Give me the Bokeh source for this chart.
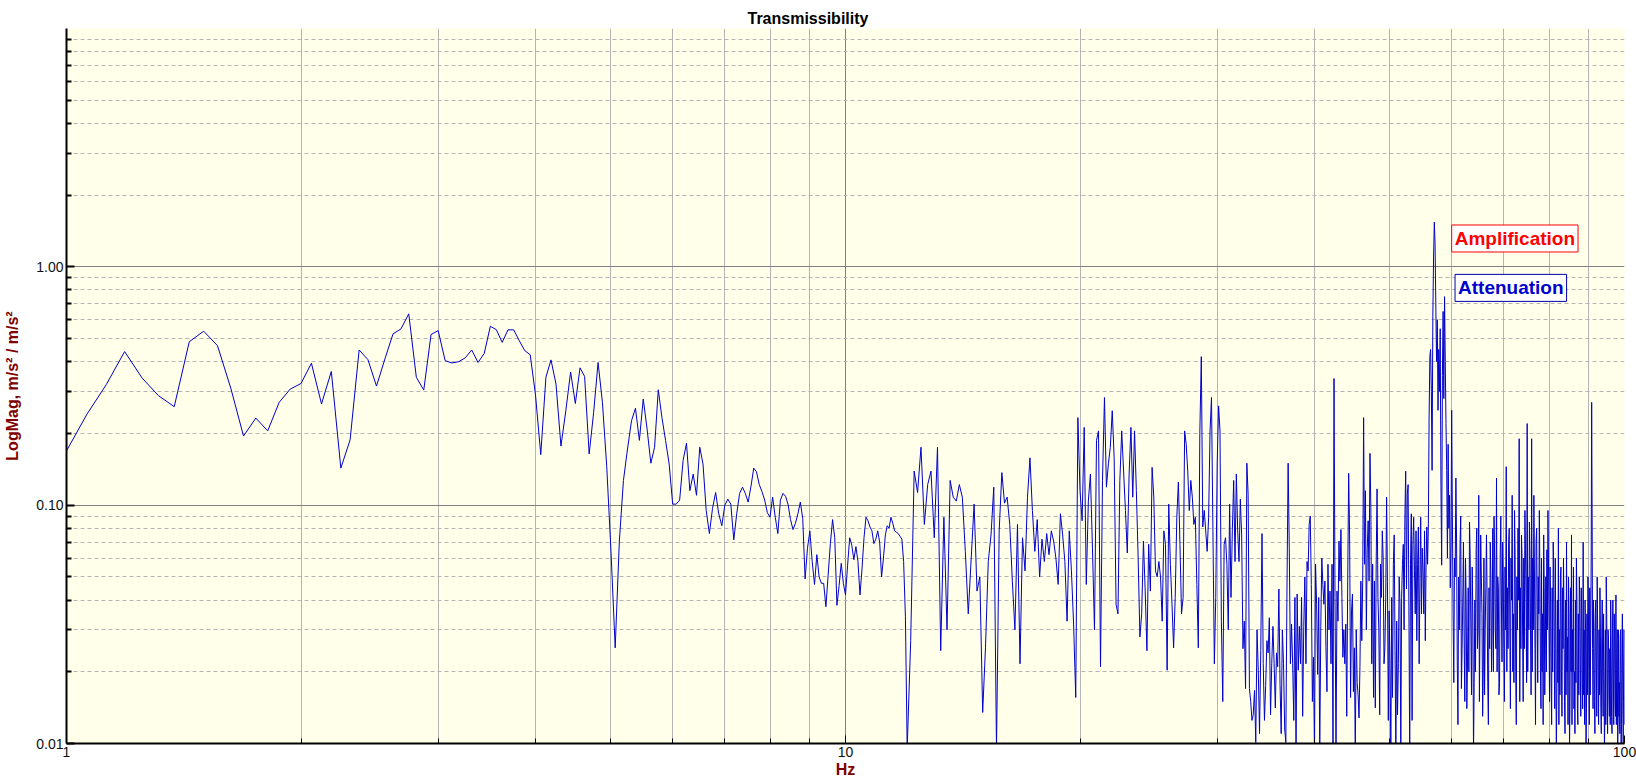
import numpy as np
from bokeh.plotting import figure
from bokeh.models import FixedTicker, PrintfTickFormatter, Label, Title
from bokeh.embed import file_html
from bokeh.resources import INLINE

# ---------------- data ----------------
# 1.0 .. 11.9375 Hz, 0.0625 Hz lines
mag_a = [
    0.169, 0.241, 0.321, 0.441, 0.342, 0.288, 0.259, 0.485,
    0.537, 0.467, 0.31, 0.195, 0.232, 0.205, 0.270, 0.307,
    0.324, 0.394, 0.266, 0.364, 0.143, 0.188, 0.448, 0.408,
    0.316, 0.41, 0.523, 0.549, 0.635, 0.344, 0.304, 0.52,
    0.540, 0.404, 0.395, 0.40, 0.415, 0.448, 0.397, 0.433,
    0.563, 0.545, 0.482, 0.544, 0.544, 0.49, 0.445, 0.428,
    0.29, 0.163, 0.344, 0.407, 0.322, 0.177, 0.249, 0.362,
    0.267, 0.377, 0.347, 0.164, 0.245, 0.397, 0.270, 0.145,
    0.064, 0.0252, 0.0707, 0.127, 0.172, 0.226, 0.255, 0.187,
    0.279, 0.209, 0.150, 0.175, 0.305, 0.233, 0.187, 0.149,
    0.101, 0.101, 0.105, 0.154, 0.182, 0.115, 0.135, 0.110,
    0.175, 0.149, 0.095, 0.076, 0.097, 0.113, 0.092, 0.082,
    0.100, 0.106, 0.101, 0.0715, 0.092, 0.112, 0.119, 0.112,
    0.103, 0.120, 0.143, 0.138, 0.122, 0.114, 0.105, 0.093,
    0.089, 0.108, 0.089, 0.076, 0.105, 0.112, 0.109, 0.101,
    0.087, 0.079, 0.084, 0.092, 0.103, 0.088, 0.049, 0.066,
    0.078, 0.058, 0.0465, 0.062, 0.050, 0.047, 0.047, 0.0375,
    0.051, 0.069, 0.087, 0.073, 0.038, 0.046, 0.057, 0.047,
    0.042, 0.056, 0.073, 0.068, 0.059, 0.067, 0.058, 0.042,
    0.054, 0.073, 0.089, 0.086, 0.081, 0.078, 0.069, 0.072,
    0.078, 0.070, 0.050, 0.060, 0.075, 0.082, 0.080, 0.089,
    0.084, 0.078, 0.077, 0.076, 0.074, 0.072, 0.058, 0.034,
]
# 12.0 .. 30.0 Hz, every 0.125 Hz
mag_b = [
    0.0095, 0.027, 0.139, 0.113, 0.175, 0.083, 0.122, 0.139,
    0.073, 0.175, 0.0245, 0.089, 0.030, 0.127, 0.108, 0.104,
    0.122, 0.108, 0.064, 0.035, 0.060, 0.101, 0.0436, 0.050,
    0.0135, 0.0252, 0.058, 0.075, 0.119, 0.0095, 0.078, 0.137,
    0.102, 0.108, 0.083, 0.048, 0.030, 0.083, 0.0216, 0.073,
    0.053, 0.108, 0.158, 0.095, 0.064, 0.087, 0.050, 0.072,
    0.058, 0.076, 0.062, 0.078, 0.0707, 0.060, 0.0465, 0.092,
    0.075, 0.058, 0.0326, 0.078, 0.053, 0.0317, 0.0156, 0.233,
    0.115, 0.086, 0.212, 0.0465, 0.104, 0.135, 0.066, 0.030,
    0.187, 0.205, 0.021, 0.127, 0.283, 0.119, 0.149, 0.175,
    0.249, 0.158, 0.0384, 0.035, 0.127, 0.205, 0.139, 0.095,
    0.063, 0.135, 0.212, 0.108, 0.205, 0.115, 0.060, 0.028,
    0.035, 0.0707, 0.0436, 0.0245, 0.0685, 0.0436, 0.144, 0.108,
    0.053, 0.050, 0.058, 0.050, 0.0326, 0.078, 0.0685, 0.0203,
    0.101, 0.0565, 0.0384, 0.0252, 0.041, 0.089, 0.125, 0.0685,
    0.035, 0.041, 0.205, 0.180, 0.139, 0.095, 0.127, 0.108,
    0.083, 0.089, 0.0465, 0.0252, 0.20, 0.42, 0.081, 0.095,
    0.078, 0.064, 0.089, 0.205, 0.283, 0.078, 0.0216, 0.041,
    0.149,
]
# 30.125 .. 60.0 Hz, every 0.125 Hz
mag_c = [
    0.261, 0.205, 0.0326, 0.0150, 0.0685, 0.073, 0.0565, 0.030,
    0.101, 0.041, 0.078, 0.127, 0.058, 0.135, 0.078, 0.058,
    0.106, 0.075, 0.025, 0.0326, 0.017, 0.150, 0.111, 0.017,
    0.015, 0.0125, 0.0132, 0.0167, 0.0101, 0.030, 0.0203, 0.011,
    0.0245, 0.076, 0.0216, 0.0125, 0.0175, 0.027, 0.024, 0.0337,
    0.0132, 0.0216, 0.031, 0.0216, 0.0141, 0.024, 0.021, 0.0445,
    0.0177, 0.011, 0.030, 0.0216, 0.0115, 0.0101, 0.0445, 0.150,
    0.066, 0.0216, 0.0317, 0.0216, 0.0125, 0.041, 0.009, 0.0424,
    0.0203, 0.031, 0.0216, 0.041, 0.013, 0.031, 0.050, 0.0216,
    0.058, 0.053, 0.083, 0.090, 0.0465, 0.015, 0.023, 0.009,
    0.0565, 0.0384, 0.0195, 0.041, 0.009, 0.031, 0.060, 0.0465,
    0.0384, 0.048, 0.0252, 0.0165, 0.0565, 0.030, 0.0436, 0.0216,
    0.0565, 0.009, 0.34, 0.041, 0.009, 0.0436, 0.0326, 0.0707,
    0.048, 0.079, 0.041, 0.023, 0.030, 0.0216, 0.0317, 0.013,
    0.048, 0.136, 0.075, 0.0156, 0.036, 0.0424, 0.0165, 0.0252,
    0.009, 0.030, 0.018, 0.016, 0.0128, 0.021, 0.048, 0.027,
    0.048, 0.233, 0.0565, 0.115, 0.030, 0.066, 0.086, 0.048,
    0.165, 0.098, 0.0216, 0.0565, 0.0156, 0.048, 0.0141, 0.0565,
    0.117, 0.041, 0.030, 0.0132, 0.0565, 0.041, 0.078, 0.060,
    0.0216, 0.0252, 0.041, 0.108, 0.048, 0.0125, 0.036, 0.0216,
    0.009, 0.041, 0.0156, 0.0565, 0.075, 0.0245, 0.009, 0.0326,
    0.0132, 0.0216, 0.050, 0.0384, 0.009, 0.041, 0.0565, 0.0685,
    0.030, 0.089, 0.139, 0.0445, 0.111, 0.122, 0.036, 0.009,
    0.0565, 0.092, 0.0125, 0.0685, 0.089, 0.053, 0.035, 0.078,
    0.027, 0.0565, 0.081, 0.0216, 0.048, 0.089, 0.035, 0.066,
    0.053, 0.035, 0.078, 0.027, 0.0565, 0.081, 0.0565, 0.081,
    0.23, 0.42, 0.45, 0.30, 0.14, 0.62, 1.10, 1.54,
    1.25, 0.70, 0.40, 0.60, 0.25, 0.45, 0.30, 0.55,
    0.12, 0.056, 0.35, 0.65, 0.28, 0.75, 0.40, 0.22,
    0.14, 0.06, 0.18, 0.08, 0.11, 0.045, 0.07, 0.25,
]
# 60.125 .. 100.0 Hz, every 0.125 Hz
mag_d = [
    0.09, 0.035, 0.018, 0.06, 0.05, 0.13, 0.07, 0.022, 0.012, 0.05, 0.03, 0.068, 0.09, 0.017, 0.025, 0.04,
    0.07, 0.028, 0.015, 0.06, 0.04, 0.014, 0.022, 0.045, 0.02, 0.085, 0.06, 0.03, 0.016, 0.055, 0.035, 0.009,
    0.018, 0.04, 0.02, 0.065, 0.08, 0.025, 0.03, 0.11, 0.015, 0.035, 0.075, 0.05, 0.035, 0.013, 0.02, 0.06,
    0.016, 0.03, 0.045, 0.075, 0.04, 0.018, 0.012, 0.045, 0.025, 0.07, 0.05, 0.02, 0.03, 0.08, 0.02, 0.09,
    0.06, 0.03, 0.025, 0.13, 0.02, 0.05, 0.045, 0.016, 0.018, 0.06, 0.09, 0.04, 0.022, 0.07, 0.05, 0.025,
    0.015, 0.055, 0.03, 0.145, 0.02, 0.045, 0.025, 0.07, 0.08, 0.03, 0.014, 0.06, 0.04, 0.11, 0.02, 0.035,
    0.018, 0.095, 0.06, 0.02, 0.012, 0.05, 0.03, 0.08, 0.04, 0.19, 0.015, 0.045, 0.025, 0.075, 0.06, 0.028,
    0.015, 0.06, 0.025, 0.095, 0.065, 0.04, 0.018, 0.22, 0.02, 0.05, 0.03, 0.085, 0.06, 0.03, 0.016, 0.19,
    0.02, 0.06, 0.03, 0.11, 0.055, 0.025, 0.012, 0.07, 0.08, 0.04, 0.018, 0.05, 0.035, 0.095, 0.05, 0.02,
    0.014, 0.06, 0.02, 0.035, 0.012, 0.075, 0.045, 0.016, 0.025, 0.05, 0.02, 0.065, 0.03, 0.095, 0.06, 0.03,
    0.015, 0.055, 0.04, 0.018, 0.012, 0.045, 0.02, 0.07, 0.05, 0.025, 0.014, 0.06, 0.03, 0.009, 0.016, 0.04,
    0.018, 0.08, 0.012, 0.03, 0.016, 0.05, 0.055, 0.02, 0.013, 0.045, 0.025, 0.06, 0.035, 0.015, 0.011, 0.04,
    0.016, 0.07, 0.02, 0.028, 0.012, 0.05, 0.035, 0.0095, 0.015, 0.045, 0.02, 0.075, 0.012, 0.03, 0.02, 0.055,
    0.014, 0.02, 0.011, 0.04, 0.018, 0.06, 0.04, 0.014, 0.012, 0.035, 0.016, 0.05, 0.04, 0.022, 0.013, 0.045,
    0.035, 0.018, 0.014, 0.07, 0.016, 0.03, 0.012, 0.04, 0.03, 0.009, 0.014, 0.035, 0.016, 0.05, 0.04, 0.02,
    0.012, 0.045, 0.016, 0.03, 0.06, 0.27, 0.09, 0.025, 0.014, 0.04, 0.03, 0.015, 0.011, 0.035, 0.04, 0.022,
    0.013, 0.05, 0.03, 0.018, 0.012, 0.03, 0.016, 0.045, 0.03, 0.014, 0.011, 0.028, 0.04, 0.02, 0.013, 0.035,
    0.02, 0.009, 0.014, 0.03, 0.012, 0.05, 0.035, 0.02, 0.011, 0.03, 0.028, 0.016, 0.013, 0.025, 0.012, 0.04,
    0.025, 0.013, 0.011, 0.03, 0.04, 0.02, 0.012, 0.035, 0.03, 0.015, 0.013, 0.042, 0.012, 0.022, 0.03, 0.0095,
    0.012, 0.03, 0.013, 0.018, 0.011, 0.028, 0.03, 0.009, 0.012, 0.025, 0.035, 0.015, 0.01, 0.02, 0.03, 0.012,
]

freq_a = 1.0 + 0.0625 * np.arange(len(mag_a))
freq_b = 12.0 + 0.125 * np.arange(len(mag_b))
freq_c = 30.125 + 0.125 * np.arange(len(mag_c))
freq_d = 60.125 + 0.125 * np.arange(len(mag_d))

freq = np.concatenate([freq_a, freq_b, freq_c, freq_d])
mag = np.concatenate([mag_a, mag_b, mag_c, mag_d])

x_major = [1, 10, 100]
x_minor = [2, 3, 4, 5, 6, 7, 8, 9, 20, 30, 40, 50, 60, 70, 80, 90]
y_major = [0.01, 0.1, 1]
y_minor = [0.02, 0.03, 0.04, 0.05, 0.06, 0.07, 0.08, 0.09,
           0.2, 0.3, 0.4, 0.5, 0.6, 0.7, 0.8, 0.9,
           2, 3, 4, 5, 6, 7, 8, 9]

title_text = "Transmissibility"
FONT = "Liberation Sans"
DARKRED = "#800000"

# ---------------- figure ----------------
p = figure(width=1636, height=782, x_axis_type="log", y_axis_type="log",
           x_range=(1, 100), y_range=(0.01, 10),
           output_backend="svg", toolbar_location=None,
           min_border_left=66, min_border_right=12,
           min_border_top=28, min_border_bottom=39)

p.background_fill_color = "#FFFFEA"
p.border_fill_color = "white"
p.outline_line_color = None

# the real title
p.title.text = title_text
p.title.text_font = FONT
p.title.text_font_size = "16px"
p.title.text_font_style = "bold"
p.title.text_color = "black"
p.title.align = "left"
p.title.offset = 681
p.title.standoff = 0
p.title.vertical_align = "top"

# an invisible spacer panel, to lift the title to the top of the page
spacer = Title(text=".", text_font=FONT, text_font_size="7px",
               text_alpha=0, standoff=0)
p.add_layout(spacer, "above")

# axes
for ax in (p.xaxis[0], p.yaxis[0]):
    ax.axis_line_color = "black"
    ax.axis_line_width = 2
    ax.major_tick_in = 8
    ax.major_tick_out = 0
    ax.minor_tick_in = 5
    ax.minor_tick_out = 0
    ax.major_tick_line_color = "black"
    ax.minor_tick_line_color = "black"
    ax.major_tick_line_width = 2
    ax.minor_tick_line_width = 2
    ax.major_label_text_font = FONT
    ax.major_label_text_font_size = "14px"
    ax.major_label_text_color = "#111111"
    ax.axis_label_text_font = FONT
    ax.axis_label_text_font_size = "16px"
    ax.axis_label_text_font_style = "bold"
    ax.axis_label_text_color = DARKRED

p.xaxis[0].minor_tick_line_width = 1
p.xaxis[0].major_tick_line_width = 1
p.xaxis[0].ticker = FixedTicker(ticks=x_major, minor_ticks=x_minor)
p.xaxis[0].formatter = PrintfTickFormatter(format="%d")
p.xaxis[0].axis_label = "Hz"
p.xaxis[0].major_label_standoff = 3
p.xaxis[0].axis_label_standoff = 1

p.yaxis[0].ticker = FixedTicker(ticks=y_major, minor_ticks=y_minor)
p.yaxis[0].formatter = PrintfTickFormatter(format="%.2f")
p.yaxis[0].axis_label = "LogMag, m/s\u00b2 / m/s\u00b2"
p.yaxis[0].major_label_standoff = 3
p.yaxis[0].axis_label_standoff = 12

# grids
p.xgrid.ticker = FixedTicker(ticks=[10], minor_ticks=x_minor)
p.xgrid.grid_line_color = "#808080"
p.xgrid.grid_line_width = 1
p.xgrid.minor_grid_line_color = "#b4b4b4"
p.xgrid.minor_grid_line_width = 1

p.ygrid.ticker = FixedTicker(ticks=[0.1, 1], minor_ticks=y_minor)
p.ygrid.grid_line_color = "#808080"
p.ygrid.grid_line_width = 1
p.ygrid.minor_grid_line_color = "#b4b4b4"
p.ygrid.minor_grid_line_width = 1
p.ygrid.minor_grid_line_dash = "4 3"

# data line
p.line(freq, mag, line_color="#0000CC", line_width=1)

# annotations
amp = Label(x=60.0, y=1.315, text="Amplification",
            text_font=FONT, text_font_size="19px", text_font_style="bold",
            text_color="#FF0000", text_align="left", text_baseline="middle",
            border_line_color="#FF0000", border_line_width=1,
            background_fill_color="white", padding=3)
att = Label(x=60.6, y=0.816, text="Attenuation",
            text_font=FONT, text_font_size="19px", text_font_style="bold",
            text_color="#0000CC", text_align="left", text_baseline="middle",
            border_line_color="#0000AA", border_line_width=1,
            background_fill_color="white", padding=3)
p.add_layout(amp)
p.add_layout(att)

open("out.html", "w").write(file_html(p, INLINE))
